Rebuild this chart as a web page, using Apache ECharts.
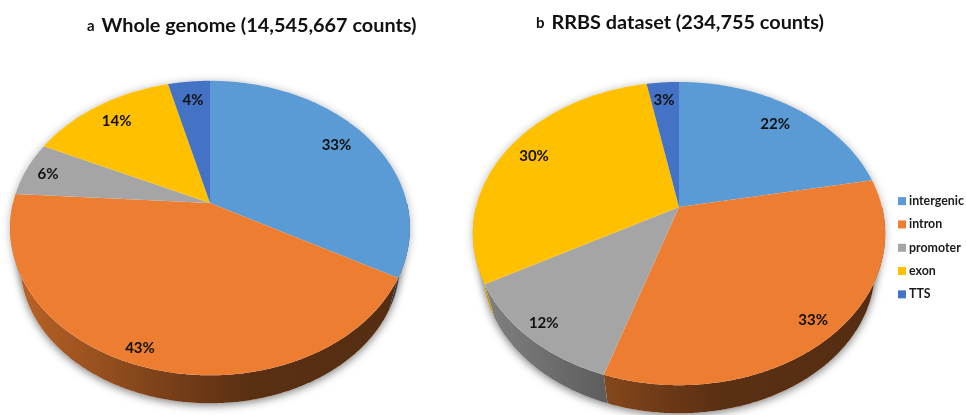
<!DOCTYPE html>
<html>
<head>
<meta charset="utf-8">
<style>html,body{margin:0;padding:0;background:#fff}#c{width:966px;height:415px}</style>
<script src="https://cdn.jsdelivr.net/npm/echarts@6/dist/echarts.min.js"></script>
</head>
<body>
<div id="c"></div>
<script>
const categories = ['intergenic', 'intron', 'promoter', 'exon', 'TTS'];
const wholeGenome = [33, 43, 6, 14, 4];
const rrbsDataset = [22, 33, 12, 30, 3];
const pieValues = [wholeGenome, rrbsDataset];
const colors = ['#5b9bd5', '#ed7d31', '#a5a5a5', '#ffc000', '#4472c4'];

// Layout of the two tilted pies: perspective projection of a unit disc.
// The lower face is the same disc scaled by s and dropped by drop pixels.
const pies = [
  { cx: 210, cy: 203, a: 143, b: 197, k: -0.17,  s: 0.95, drop: 36.6, left: 10,  right: 410 },
  { cx: 679, cy: 207, a: 147, b: 203, k: -0.175, s: 0.95, drop: 37,   left: 473, right: 885 }
];
// Label placement inside each slice: radius fraction and angle nudge in degrees
const labelRadius = [[0.815, 0.917, 0.877, 0.823, 0.826], [0.817, 0.893, 0.907, 0.845, 0.838]];
const labelNudge = [[-1.6, 3.1, -0.6, 0, 0.4], [0.4, 0.7, 0.6, 0.7, -0.4]];

function project(p, r, deg) {
  const t = deg * Math.PI / 180;
  const u = r * Math.sin(t), v = -r * Math.cos(t);
  const d = 1 + p.k * v;
  return [p.cx + p.b * u / d, p.cy + p.a * v / d];
}
function lower(p, q) {
  return [p.cx + p.s * (q[0] - p.cx), p.cy + p.s * (q[1] - p.cy) + p.drop];
}
function shade(hex, f) {
  const n = parseInt(hex.slice(1), 16);
  const c = [(n >> 16) & 255, (n >> 8) & 255, n & 255].map(x => Math.round(x * f));
  return 'rgb(' + c.join(',') + ')';
}
function arc(p, d0, d1) {
  const pts = [];
  const n = Math.max(2, Math.ceil(Math.abs(d1 - d0)));
  for (let i = 0; i <= n; i++) pts.push(project(p, 1, d0 + (d1 - d0) * i / n));
  return pts;
}
// Only the front part of the outline can show a rim
function frontArc(p, d0, d1) {
  const out = [];
  const n = Math.max(2, Math.ceil((d1 - d0) * 2));
  for (let i = 0; i <= n; i++) {
    const d = d0 + (d1 - d0) * i / n;
    if (-Math.cos(d * Math.PI / 180) >= 0) out.push(project(p, 1, d));
  }
  return out;
}
function sidePolygon(p, pts) {
  return pts.concat(pts.slice().reverse().map(q => lower(p, q)));
}

function wedgeRenderer(seriesIdx) {
  return function (params, api) {
    const pieIdx = params.dataIndex;
    const p = pies[pieIdx];
    const vals = pieValues[pieIdx];
    const total = vals.reduce((s, x) => s + x, 0);
    const before = vals.slice(0, seriesIdx).reduce((s, x) => s + x, 0);
    const value = api.value(0);
    const d0 = before / total * 360;
    const d1 = (before + value) / total * 360;
    const color = colors[seriesIdx];
    const children = [];
    const rim = frontArc(p, d0, d1);
    if (rim.length > 1) {
      children.push({
        type: 'polygon', z2: 1,
        shape: { points: sidePolygon(p, rim) },
        style: {
          fill: {
            type: 'linear', global: true,
            x: p.left, y: 0, x2: p.right, y2: 0,
            colorStops: [
              { offset: 0, color: shade(color, 0.8) },
              { offset: 0.3, color: shade(color, 0.58) },
              { offset: 0.48, color: shade(color, 0.45) },
              { offset: 0.6, color: shade(color, 0.38) },
              { offset: 1, color: shade(color, 0.36) }
            ]
          }
        }
      });
    }
    const top = [[p.cx, p.cy]].concat(arc(p, d0, d1));
    children.push({ type: 'polygon', z2: 5, shape: { points: top }, style: { fill: color } });
    const lp = project(p, labelRadius[pieIdx][seriesIdx], (d0 + d1) / 2 + labelNudge[pieIdx][seriesIdx]);
    children.push({
      type: 'text', z2: 10,
      style: {
        x: lp[0], y: lp[1], text: value + '%',
        fill: '#111', align: 'center', verticalAlign: 'middle',
        font: 'bold 15px Lato, "Open Sans", sans-serif'
      }
    });
    return { type: 'group', children: children };
  };
}

function shadowRenderer(params) {
  const p = pies[params.dataIndex];
  const pts = arc(p, 0, 360);
  const low = pts.map(q => lower(p, q));
  return {
    type: 'group',
    children: [{
      type: 'polygon', z2: 0,
      shape: { points: pts },
      style: { fill: '#fff', shadowBlur: 8, shadowColor: 'rgba(0,0,0,0.3)', shadowOffsetX: 0, shadowOffsetY: 1 }
    }, {
      type: 'polygon', z2: 0,
      shape: { points: low },
      style: { fill: '#fff', shadowBlur: 9, shadowColor: 'rgba(0,0,0,0.5)', shadowOffsetX: 0, shadowOffsetY: 2 }
    }]
  };
}

const series = [{
  type: 'custom', name: 'rim shadow', coordinateSystem: 'none', silent: true, z: 2,
  data: [0, 1], renderItem: shadowRenderer, animation: false
}].concat(categories.map((name, i) => ({
  type: 'custom',
  name: name,
  coordinateSystem: 'none',
  z: 2,
  animation: false,
  itemStyle: { color: colors[i] },
  data: [wholeGenome[i], rrbsDataset[i]],
  renderItem: wedgeRenderer(i)
})));

const titleRich = {
  s: { fontFamily: 'Lato, "Open Sans", sans-serif', fontSize: 15, fontWeight: 'bold', color: '#111', padding: [0, 2, 0, 0] },
  m: { fontFamily: 'Lato, "Open Sans", sans-serif', fontSize: 19.85, fontWeight: 'bold', color: '#111' }
};
const chart = echarts.init(document.getElementById('c'), null, { renderer: 'canvas' });
chart.setOption({
  backgroundColor: '#fff',
  animation: false,
  title: [
    { text: '{s|a} {m|Whole genome (14,545,667 counts)}', left: 87, top: 16, padding: 0, textStyle: { rich: titleRich } },
    { text: '{s|b} {m|RRBS dataset (234,755 counts)}', left: 536, top: 13, padding: 0, textStyle: { rich: titleRich } }
  ],
  legend: {
    data: categories,
    orient: 'vertical',
    left: 898,
    top: 194,
    icon: 'rect',
    itemWidth: 8,
    itemHeight: 8,
    itemGap: 9,
    padding: 0,
    selectedMode: false,
    textStyle: {
      fontFamily: 'Lato, "Open Sans", sans-serif', fontSize: 12.4, fontWeight: 'bold',
      color: '#1a1a1a', padding: [0, 0, 0, -2], lineHeight: 14, height: 14.3
    }
  },
  series: series
});
</script>
</body>
</html>
